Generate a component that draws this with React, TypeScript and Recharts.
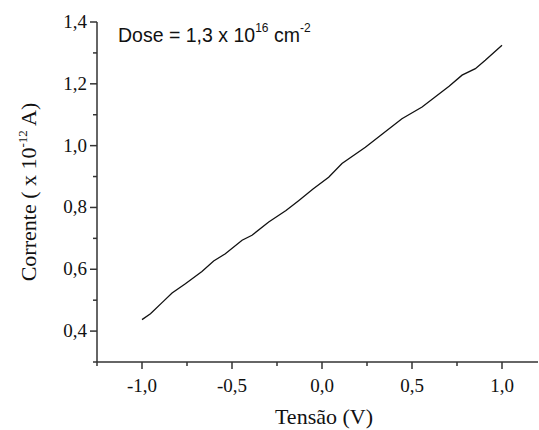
import { LineChart, Line, XAxis, YAxis } from 'recharts'

// Tensão (V) and Corrente (x 10^-12 A)
const tensao = [-1.0, -0.953, -0.88, -0.833, -0.759, -0.667, -0.602, -0.537, -0.444, -0.389, -0.296, -0.2, -0.13, -0.05, 0.037, 0.111, 0.241, 0.33, 0.444, 0.556, 0.63, 0.706, 0.778, 0.852, 0.907, 1.0]
const corrente = [0.437, 0.456, 0.497, 0.523, 0.553, 0.593, 0.627, 0.65, 0.694, 0.71, 0.753, 0.79, 0.822, 0.86, 0.898, 0.942, 0.995, 1.035, 1.087, 1.125, 1.158, 1.192, 1.228, 1.249, 1.276, 1.325]

const xTicks = [-1.25, -1.0, -0.75, -0.5, -0.25, 0.0, 0.25, 0.5, 0.75, 1.0]
const xMajor = [-1.0, -0.5, 0.0, 0.5, 1.0]
const yTicks = [0.3, 0.4, 0.5, 0.6, 0.7, 0.8, 0.9, 1.0, 1.1, 1.2, 1.3, 1.4]
const yMajor = [0.4, 0.6, 0.8, 1.0, 1.2, 1.4]

const data = tensao.map((v, i) => ({ v, i: corrente[i] }))

const axisColor = '#333'
const serif = '"Liberation Serif", "Times New Roman", serif'
const sans = '"Liberation Sans", Arial, sans-serif'

const fmt = (n: number) => n.toFixed(1).replace('.', ',')
const isMajor = (list: number[], n: number) => list.some((m) => Math.abs(m - n) < 1e-6)

const XTick = (props: any) => {
  const { x, y, payload } = props
  const major = isMajor(xMajor, payload.value)
  return (
    <g>
      <line x1={x} x2={x} y1={y} y2={y + (major ? 7 : 4)} stroke={axisColor} strokeWidth={1.5} />
      {major && (
        <text x={x} y={y + 30} textAnchor="middle" fontFamily={serif} fontSize={19} fill="#111">
          {fmt(payload.value)}
        </text>
      )}
    </g>
  )
}

const YTick = (props: any) => {
  const { x, y, payload } = props
  const major = isMajor(yMajor, payload.value)
  return (
    <g>
      <line x1={x} x2={x - (major ? 7 : 4)} y1={y} y2={y} stroke={axisColor} strokeWidth={1.5} />
      {major && (
        <text x={x - 10} y={y + 6} textAnchor="end" fontFamily={serif} fontSize={19} fill="#111">
          {fmt(payload.value)}
        </text>
      )}
    </g>
  )
}

export default function App() {
  return (
    <div style={{ position: 'absolute', left: 0, top: 0, width: 539, height: 430, background: '#fff' }}>
      <LineChart width={539} height={430} data={data} margin={{ top: 22, right: 1, bottom: 0, left: 0 }}>
        <XAxis
          type="number"
          dataKey="v"
          domain={[-1.25, 1.2]}
          allowDataOverflow
          ticks={xTicks}
          interval={0}
          tickSize={0}
          tickMargin={0}
          tick={<XTick />}
          height={68}
          stroke={axisColor}
          strokeWidth={1.5}
          label={{
            content: () => (
              <text x={324} y={424} textAnchor="middle" fontFamily={serif} fontSize={22} fill="#111">
                Tensão (V)
              </text>
            ),
          }}
        />
        <YAxis
          type="number"
          domain={[0.3, 1.4]}
          allowDataOverflow
          ticks={yTicks}
          interval={0}
          tickSize={0}
          tickMargin={0}
          tick={<YTick />}
          width={97}
          stroke={axisColor}
          strokeWidth={1.5}
          label={{
            content: () => (
              <text x={36} y={192} transform="rotate(-90, 36, 192)" textAnchor="middle" fontFamily={serif} fontSize={22} fill="#111">
                Corrente ( x 10
                <tspan dy={-9} fontSize={13}>-12</tspan>
                <tspan dy={9}> A)</tspan>
              </text>
            ),
          }}
        />
        <Line
          type="linear"
          dataKey="i"
          stroke="#111"
          strokeWidth={1.3}
          dot={false}
          isAnimationActive={false}
        />
        <text x={118} y={42} fontFamily={sans} fontSize={19.5} fill="#111">
          Dose = 1,3 x 10
          <tspan dy={-10} fontSize={12}>16</tspan>
          <tspan dy={10}> cm</tspan>
          <tspan dy={-10} fontSize={12}>-2</tspan>
        </text>
      </LineChart>
    </div>
  )
}
